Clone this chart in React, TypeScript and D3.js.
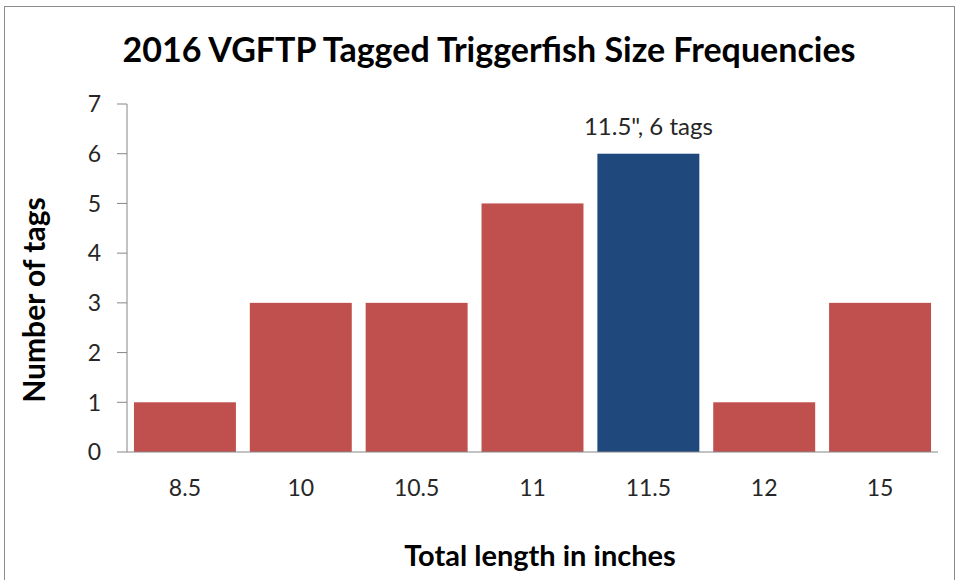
import * as d3 from "d3";
import { useRef, useEffect } from "react";

const categories = ["8.5", "10", "10.5", "11", "11.5", "12", "15"];
const tagCounts = [1, 3, 3, 5, 6, 1, 3];
const yTicks = [0, 1, 2, 3, 4, 5, 6, 7];
const highlight = "11.5";
const highlightLabel = '11.5", 6 tags';

const width = 957;
const height = 580;
const font = "Lato, 'Open Sans', sans-serif";

const drawChart = (node: SVGSVGElement) => {
	const svg = d3.select(node);
	svg.selectAll("*").remove();

	svg
		.append("rect")
		.attr("x", 4.5)
		.attr("y", 6.5)
		.attr("width", width - 7)
		.attr("height", height - 5)
		.attr("fill", "white")
		.attr("stroke", "#8c8c8c");

	const x = d3
		.scaleBand()
		.domain(categories)
		.range([127, 938])
		.paddingInner(0.12)
		.paddingOuter(0.06);

	const y = d3.scaleLinear().domain([0, 7]).range([452, 104]);

	const data = categories.map((c, i) => ({ name: c, value: tagCounts[i] }));

	svg
		.append("g")
		.selectAll("rect")
		.data(data)
		.enter()
		.append("rect")
		.attr("x", d => x(d.name))
		.attr("y", d => y(d.value))
		.attr("width", x.bandwidth())
		.attr("height", d => y(0) - y(d.value))
		.attr("fill", d => (d.name === highlight ? "#1f497d" : "#c0504d"));

	// y axis
	const yAxis = svg.append("g").attr("transform", `translate(127,0)`);
	yAxis
		.append("line")
		.attr("y1", y(7))
		.attr("y2", y(0))
		.attr("stroke", "#868686");
	yAxis
		.selectAll("line.tick")
		.data(yTicks)
		.enter()
		.append("line")
		.attr("class", "tick")
		.attr("x1", -10)
		.attr("x2", 0)
		.attr("y1", d => y(d))
		.attr("y2", d => y(d))
		.attr("stroke", "#868686");
	yAxis
		.selectAll("text")
		.data(yTicks)
		.enter()
		.append("text")
		.attr("x", -26)
		.attr("y", d => y(d))
		.attr("dy", "0.36em")
		.attr("text-anchor", "end")
		.style("font-family", font)
		.style("font-size", "23px")
		.attr("fill", "#262626")
		.text(d => d);

	// x axis
	svg
		.append("line")
		.attr("x1", 127)
		.attr("x2", 938)
		.attr("y1", y(0))
		.attr("y2", y(0))
		.attr("stroke", "#868686");
	svg
		.append("g")
		.selectAll("text")
		.data(categories)
		.enter()
		.append("text")
		.attr("x", d => x(d) + x.bandwidth() / 2)
		.attr("y", 496)
		.attr("text-anchor", "middle")
		.style("font-family", font)
		.style("font-size", "23px")
		.attr("fill", "#262626")
		.text(d => d);

	svg
		.append("text")
		.attr("x", x(highlight) + x.bandwidth() / 2)
		.attr("y", y(6) - 19)
		.attr("text-anchor", "middle")
		.style("font-family", font)
		.style("font-size", "24px")
		.attr("fill", "#262626")
		.text(highlightLabel);

	svg
		.append("text")
		.attr("x", 489)
		.attr("y", 62)
		.attr("text-anchor", "middle")
		.style("font-family", font)
		.style("font-size", "34px")
		.style("font-weight", "bold")
		.attr("fill", "#000")
		.text("2016 VGFTP Tagged Triggerfish Size Frequencies");

	svg
		.append("text")
		.attr("x", 540)
		.attr("y", 566)
		.attr("text-anchor", "middle")
		.style("font-family", font)
		.style("font-size", "29px")
		.style("font-weight", "bold")
		.attr("fill", "#000")
		.text("Total length in inches");

	svg
		.append("text")
		.attr("transform", `translate(45,300) rotate(-90)`)
		.attr("text-anchor", "middle")
		.style("font-family", font)
		.style("font-size", "30px")
		.style("font-weight", "bold")
		.attr("fill", "#000")
		.text("Number of tags");
};

export default function App() {
	const ref = useRef<SVGSVGElement>(null);

	useEffect(() => {
		if (ref.current) drawChart(ref.current);
	}, []);

	return (
		<svg
			ref={ref}
			width={width}
			height={height}
			style={{ position: "absolute", left: 0, top: 0 }}
		/>
	);
}
